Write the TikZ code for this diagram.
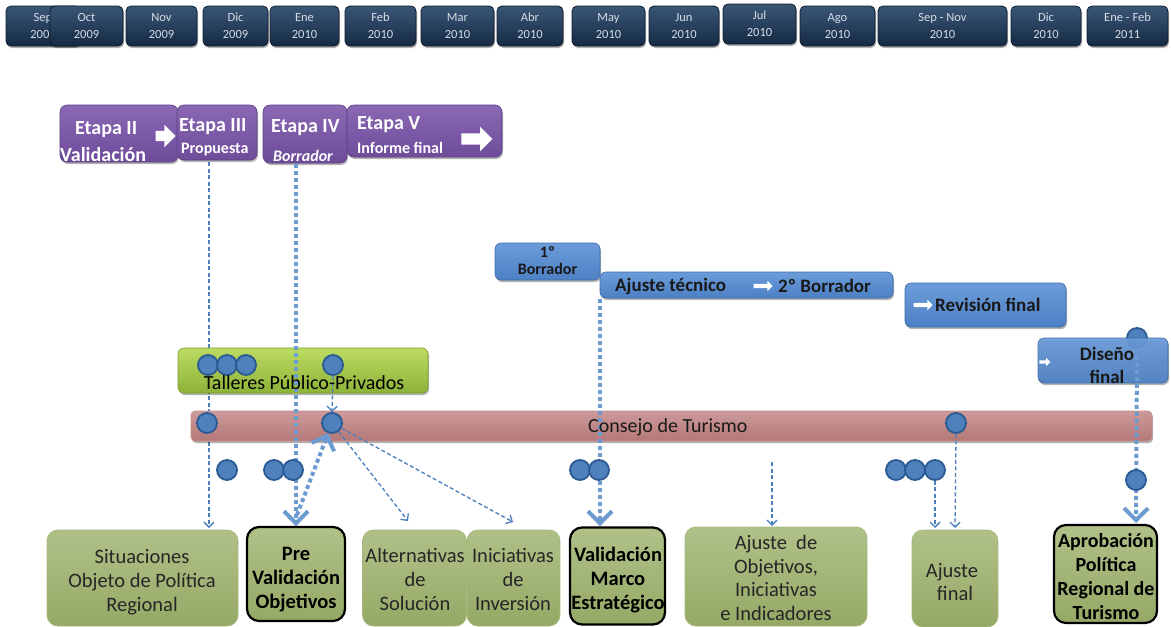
\documentclass[tikz,border=0pt]{standalone}
\usepackage{fontspec}
\setmainfont{Carlito}
\usetikzlibrary{shadows,arrows.meta,shapes.arrows}
\pgfdeclarelayer{back}
\pgfdeclarelayer{mid}
\pgfsetlayers{back,mid,main}
\definecolor{navyT}{HTML}{3A5676}
\definecolor{navyB}{HTML}{152A43}
\definecolor{navyD}{HTML}{0E1C2E}
\definecolor{monthtxt}{HTML}{D5DCE6}
\definecolor{purpT}{HTML}{8A68B4}
\definecolor{purpB}{HTML}{6E4C9A}
\definecolor{purpD}{HTML}{5E4086}
\definecolor{blueT}{HTML}{6C9CDA}
\definecolor{blueB}{HTML}{4C80C4}
\definecolor{blueD}{HTML}{3D6BA8}
\definecolor{grnT}{HTML}{BCDB62}
\definecolor{grnB}{HTML}{8DB238}
\definecolor{grnD}{HTML}{7B9D2C}
\definecolor{redT}{HTML}{CC9A99}
\definecolor{redB}{HTML}{B47877}
\definecolor{redD}{HTML}{C49190}
\definecolor{olT}{HTML}{B0C188}
\definecolor{olB}{HTML}{95A966}
\definecolor{olD}{HTML}{A6B97C}
\definecolor{dotF}{HTML}{4F81BD}
\definecolor{dotD}{HTML}{2B5A93}
\definecolor{thinC}{HTML}{4A7EBD}
\definecolor{thickC}{HTML}{6C9BD2}
\begin{document}
\begin{tikzpicture}[x=1pt,y=-1pt,
  boxshadow/.style={drop shadow={shadow xshift=1pt,shadow yshift=-2pt,opacity=0.3,fill=black}},
  monthbox/.style={draw=navyD,line width=0.8pt,rounded corners=5pt,top color=navyT,bottom color=navyB,text=monthtxt,font=\fontsize{12.5}{17}\selectfont,align=center,inner sep=0pt,minimum height=40pt,boxshadow},
  purplebox/.style={draw=purpD,line width=0.6pt,rounded corners=7pt,top color=purpT,bottom color=purpB,inner sep=0pt,boxshadow},
  ptext/.style={text=white,anchor=west,inner sep=0pt,font=\bfseries\fontsize{20}{20}\selectfont},
  bluebox/.style={draw=blueD,line width=0.6pt,rounded corners=6pt,top color=blueT,bottom color=blueB,inner sep=0pt,boxshadow},
  btext/.style={text=black!90,inner sep=0pt,font=\bfseries\fontsize{19}{18}\selectfont},
  warrow/.style={single arrow,fill=white,shape border rotate=0},
  olbox/.style={draw=olD,line width=0.8pt,rounded corners=11pt,top color=olT,bottom color=olB,inner sep=0pt},
  olboxb/.style={draw=black,line width=2.2pt,rounded corners=12pt,top color=olT,bottom color=olB,inner sep=0pt},
  otext/.style={align=center,inner sep=0pt,text=black!85,font=\fontsize{20.5}{24}\selectfont},
  otextb/.style={align=center,inner sep=0pt,text=black,font=\bfseries\fontsize{20.5}{24}\selectfont},
  dot/.style={circle,fill=dotF,draw=dotD,line width=1.8pt,minimum size=20pt,inner sep=0pt},
  thinarr/.style={draw=thinC,line width=1.3pt,dash pattern=on 4pt off 2.5pt,-{Straight Barb[length=5pt,width=10pt]}},
  thickarr/.style={draw=thickC,line width=4pt,dash pattern=on 4pt off 3pt,-{Straight Barb[length=12pt,width=24pt]}}
]
\useasboundingbox (0,0) rectangle (1171,627);

\begin{pgfonlayer}{back}
\fill[white] (0,0) rectangle (1171,627);
% months
\node[monthbox,minimum width=74pt] (m0) at (43,26) {Sep\\2009};
\node[monthbox,minimum width=73pt] (m1) at (86.5,26) {Oct\\2009};
\node[monthbox,minimum width=71pt] (m2) at (161.5,26) {Nov\\2009};
\node[monthbox,minimum width=65pt] (m3) at (235.5,26) {Dic\\2009};
\node[monthbox,minimum width=69pt] (m4) at (304.5,26) {Ene\\2010};
\node[monthbox,minimum width=71pt] (m5) at (380.5,26) {Feb\\2010};
\node[monthbox,minimum width=73pt] (m6) at (457.5,26) {Mar\\2010};
\node[monthbox,minimum width=66pt] (m7) at (530,26) {Abr\\2010};
\node[monthbox,minimum width=73pt] (m8) at (608.5,26) {May\\2010};
\node[monthbox,minimum width=70pt] (m9) at (684,26) {Jun\\2010};
\node[monthbox,minimum width=73pt] (m10) at (759.5,24) {Jul\\2010};
\node[monthbox,minimum width=75pt] (m11) at (837.5,26) {Ago\\2010};
\node[monthbox,minimum width=129pt] (m12) at (942.5,26) {Sep - Nov\\2010};
\node[monthbox,minimum width=70pt] (m13) at (1046,26) {Dic\\2010};
\node[monthbox,minimum width=81pt] (m14) at (1127.5,26) {Ene - Feb\\2011};

% purple stages
\node[purplebox,minimum width=118pt,minimum height=57pt] (e2) at (119,133.5) {};
\node[purplebox,minimum width=80pt,minimum height=55pt] (e3) at (217,132.5) {};
\node[purplebox,minimum width=84pt,minimum height=58pt] (e4) at (305,134) {};
\node[purplebox,minimum width=155pt,minimum height=52pt] (e5) at (424.5,131) {};

% thin line behind bars
\coordinate (a1s) at (209,162);
\coordinate (a1e) at (209,528);
\draw[thinarr] (a1s) -- (a1e);

% blue boxes
\node[bluebox,minimum width=105pt,minimum height=37pt] (b1) at (547.5,261.5) {};
\node[bluebox,minimum width=293pt,minimum height=26pt] (b2) at (746.5,285) {};
\node[bluebox,minimum width=161pt,minimum height=44pt] (b3) at (985.5,305) {};
\node[dot] (d10) at (1137,338) {};
\node[bluebox,minimum width=130pt,minimum height=45pt,fill opacity=0.92] (b4) at (1103,360.5) {};

% bars
\node[draw=grnD,line width=0.6pt,rounded corners=6pt,top color=grnT,bottom color=grnB,minimum width=250pt,minimum height=45pt,inner sep=0pt,boxshadow] (g) at (303,370.5) {};
\node[draw=redD,line width=0.6pt,rounded corners=4pt,top color=redT,bottom color=redB,minimum width=961pt,minimum height=30pt,inner sep=0pt,boxshadow] (r) at (671.5,426) {};
\end{pgfonlayer}

% purple texts
\node[ptext] (e2a) at (75,130) {Etapa II};
\node[ptext] (e2b) at (60,155) {Validación};
\node[warrow,inner sep=5pt,single arrow head extend=6pt,minimum height=20pt] (e2r) at (163,136) {};
\node[ptext] (e3a) at (179,127) {Etapa III};
\node[ptext,font=\bfseries\fontsize{16}{16}\selectfont] (e3b) at (181,150) {Propuesta};
\node[ptext] (e4a) at (271,128) {Etapa IV};
\node[ptext,font=\bfseries\itshape\fontsize{16}{16}\selectfont] (e4b) at (273,156) {Borrador};
\node[ptext] (e5a) at (357,125) {Etapa V};
\node[ptext,font=\bfseries\fontsize{16}{16}\selectfont] (e5b) at (357,148) {Informe final};
\node[warrow,inner sep=5.5pt,single arrow head extend=6.5pt,minimum height=31pt] (e5r) at (474,139) {};

% blue texts
\node[btext,align=center,font=\bfseries\fontsize{16}{17}\selectfont] (b1t) at (547.5,261) {1º\\Borrador};
\node[btext,anchor=west] (b2a) at (615,286) {Ajuste técnico};
\node[warrow,inner sep=2pt,single arrow head extend=3pt,minimum height=19pt] (b2r) at (762,286) {};
\node[btext,anchor=west] (b2b) at (778,286) {2º Borrador};
\node[warrow,inner sep=2pt,single arrow head extend=3pt,minimum height=19pt] (b3r) at (922,305) {};
\node[btext,anchor=west] (b3t) at (935,305) {Revisión final};
\node[warrow,inner sep=1.5pt,single arrow head extend=2.5pt,minimum height=11pt] (b4r) at (1044,362) {};
\node[btext,align=center,font=\bfseries\fontsize{19}{23}\selectfont] (b4t) at (1107,365) {Diseño\\final};

% arrows
\begin{pgfonlayer}{mid}
\coordinate (a2s) at (296,164);
\coordinate (a2e) at (296,526);
\draw[thickarr] (a2s) -- (a2e);
\coordinate (a4s) at (297,515);
\coordinate (a5e) at (408,521);
\coordinate (a6e) at (513,522);
\coordinate (a7s) at (600,299);
\coordinate (a7e) at (600,526);
\draw[thickarr] (a7s) -- (a7e);
\coordinate (a8s) at (772,462);
\coordinate (a8e) at (772,526);
\draw[thinarr] (a8s) -- (a8e);
\coordinate (a9e) at (935,528);
\coordinate (a10e) at (955,528);
\coordinate (a11e) at (1136,523);
\draw[thickarr] (d10.south) -- (a11e);
\end{pgfonlayer}

% dots
\node[dot] (t1) at (208,365) {};
\node[dot] (t2) at (227,365) {};
\node[dot] (t3) at (246,365) {};
\node[dot] (t4) at (333,365) {};
\node[dot] (c1) at (207,423) {};
\node[dot] (c2) at (332,423) {};
\node[dot] (c3) at (956,423) {};
\node[dot] (d1) at (227,470) {};
\node[dot] (d2) at (274,470) {};
\node[dot] (d3) at (293,470) {};
\node[dot] (d4) at (580,470) {};
\node[dot] (d5) at (599,470) {};
\node[dot] (d6) at (896,470) {};
\node[dot] (d7) at (915,470) {};
\node[dot] (d8) at (935,470) {};
\node[dot] (d9) at (1136,480) {};

\begin{pgfonlayer}{mid}
\draw[thinarr] (t4.south) -- (c2.north);
\draw[thickarr] (a4s) -- (c2);
\draw[thinarr] (c2) -- (a5e);
\draw[thinarr] (c2) -- (a6e);
\draw[thinarr] (d8.south) -- (a9e);
\draw[thinarr] (c3.south) -- (a10e);
\end{pgfonlayer}

% bar texts
\node[inner sep=0pt,font=\fontsize{20}{20}\selectfont] (gt) at (304,383) {Talleres Público-Privados};
\node[inner sep=0pt,anchor=west,font=\fontsize{20}{20}\selectfont,text=black!90] (rt) at (588,427) {Consejo de Turismo};

% bottom boxes
\node[olbox,minimum width=191pt,minimum height=96pt] (sit) at (142.5,578) {};
\node[olboxb,minimum width=98pt,minimum height=94pt] (pre) at (296,574) {};
\node[olbox,minimum width=104pt,minimum height=96pt] (alt) at (414.5,578) {};
\node[olbox,minimum width=93pt,minimum height=96pt] (inic) at (513.5,578) {};
\node[olboxb,minimum width=95pt,minimum height=97pt] (val) at (617.5,576) {};
\node[olbox,minimum width=182pt,minimum height=99pt] (ajo) at (776,576.5) {};
\node[olbox,minimum width=86pt,minimum height=97pt] (ajf) at (955,578.5) {};
\node[olboxb,minimum width=103pt,minimum height=98pt] (apr) at (1105.5,574) {};

\node[otext] (sitt) at (142,582) {Situaciones\\Objeto de Política\\Regional};
\node[otextb] (pret) at (296,580) {Pre\\Validación\\Objetivos};
\node[otext] (altt) at (415,579) {Alternativas\\de\\Solución};
\node[otext] (inict) at (513,579) {Iniciativas\\de\\Inversión};
\node[otextb] (valt) at (618,580) {Validación\\Marco\\Estratégico};
\node[otext,font=\fontsize{20.5}{23.5}\selectfont] (ajot) at (776,578) {Ajuste~ de\\Objetivos,\\Iniciativas\\e Indicadores};
\node[otext,font=\fontsize{20.5}{23}\selectfont] (ajft) at (952,582) {Ajuste\\\hspace*{6pt}final};
\node[otextb,font=\bfseries\fontsize{20}{24}\selectfont] (aprt) at (1106,577) {Aprobación\\Política\\Regional de\\Turismo};
\end{tikzpicture}
\end{document}
